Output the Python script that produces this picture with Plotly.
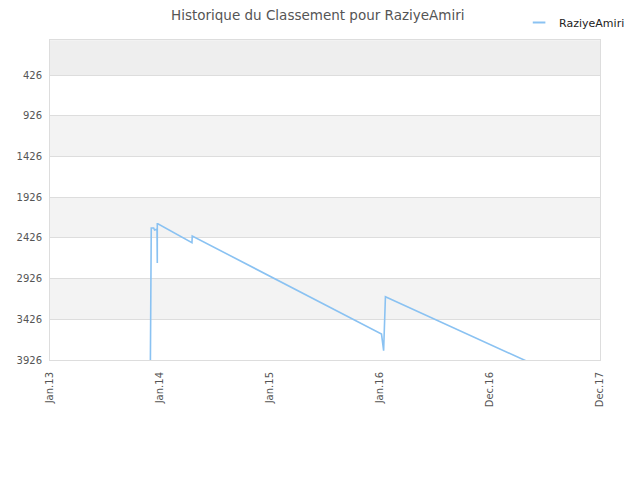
import plotly.graph_objects as go

# rank history (lower = better)
dates = [
    "2013-11-30", "2013-12-01", "2013-12-03", "2013-12-11", "2013-12-14",
    "2013-12-22", "2013-12-23", "2013-12-23", "2013-12-25", "2014-04-17",
    "2014-04-18", "2016-01-06", "2016-01-13", "2016-01-19", "2017-08-21",
]
ranks = [
    4000, 3656, 2305, 2305, 2330,
    2320, 2735, 2252, 2252, 2485,
    2403, 3607, 3812, 3148, 4128,
]

y_ticks = [426, 926, 1426, 1926, 2426, 2926, 3426, 3926]
x_tickvals = ["2013-01-01", "2014-01-01", "2015-01-01", "2016-01-01", "2016-12-31", "2017-12-31"]
x_ticktext = ["Jan.13", "Jan.14", "Jan.15", "Jan.16", "Dec.16", "Dec.17"]

line_color = "#8ac2f2"

fig = go.Figure()
fig.add_trace(go.Scatter(
    x=dates, y=ranks, mode="lines", name="RaziyeAmiri", showlegend=False,
    line=dict(color=line_color, width=1.6),
))
# legend entry only: short dash like the original
fig.add_trace(go.Scatter(
    x=[None], y=[None], mode="markers", name="RaziyeAmiri",
    marker=dict(symbol="line-ew", size=9, line=dict(width=2, color=line_color)),
))

# alternating grey bands behind the grid
bands = [(0, y_ticks[0], "#eeeeee")]
for lo, hi in zip(y_ticks[1::2], y_ticks[2::2]):
    bands.append((lo, hi, "#f3f3f3"))
for lo, hi, col in bands:
    fig.add_shape(type="rect", xref="paper", yref="y", x0=0, x1=1, y0=lo, y1=hi,
                  fillcolor=col, line_width=0, layer="below")

# the page body adds a few px of offset, margins compensate for it
fig.update_layout(
    width=640, height=480,
    margin=dict(l=42, r=48, t=32, b=128, autoexpand=False),
    paper_bgcolor="white", plot_bgcolor="white",
    font=dict(family="DejaVu Sans", color="#555555", size=10),
    title=dict(text="Historique du Classement pour RaziyeAmiri", xref="container", x=0.484,
               xanchor="center", y=0.995, yanchor="top", pad=dict(t=0),
               font=dict(size=13.5, color="#555555")),
    showlegend=True,
    legend=dict(xref="container", x=0.972, xanchor="right", yref="container", y=1.0,
                yanchor="top", font=dict(size=11, color="#222222"),
                bgcolor="rgba(0,0,0,0)"),
    xaxis=dict(
        range=["2013-01-01", "2017-12-31"], tickvals=x_tickvals, ticktext=x_ticktext,
        tickangle=-90, showgrid=False, showline=True, linecolor="#dddddd", mirror=True,
        ticks="outside", ticklen=7, tickcolor="rgba(0,0,0,0)", zeroline=False,
        automargin=False,
    ),
    yaxis=dict(
        range=[3926, -4], tickvals=y_ticks, showgrid=True, gridcolor="#dddddd",
        showline=True, linecolor="#dddddd", mirror=True, zeroline=False,
        ticks="outside", ticklen=5, tickcolor="rgba(0,0,0,0)", automargin=False,
    ),
)

fig.write_html("out.html")
